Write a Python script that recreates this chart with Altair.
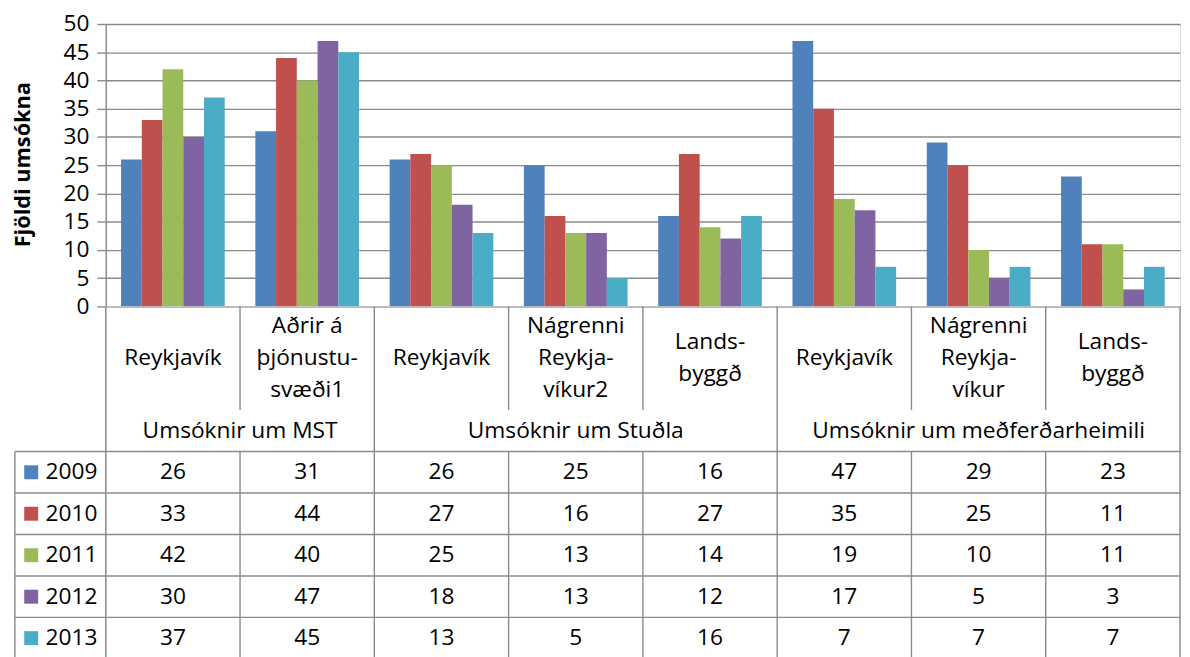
import altair as alt
import pandas as pd

# ---------------- data ----------------
years = ["2009", "2010", "2011", "2012", "2013"]
colors = ["#4F81BD", "#C0504D", "#9BBB59", "#8064A2", "#4BACC6"]
groups = ["Umsóknir um MST", "Umsóknir um Stuðla", "Umsóknir um meðferðarheimili"]
cat_labels = [
    "Reykjavík",
    "Aðrir á|þjónustu-|svæði1",
    "Reykjavík",
    "Nágrenni|Reykja-|víkur2",
    "Lands-|byggð",
    "Reykjavík",
    "Nágrenni|Reykja-|víkur",
    "Lands-|byggð",
]
cat_group = [0, 0, 1, 1, 1, 2, 2, 2]
v2009 = [26, 31, 26, 25, 16, 47, 29, 23]
v2010 = [33, 44, 27, 16, 27, 35, 25, 11]
v2011 = [42, 40, 25, 13, 14, 19, 10, 11]
v2012 = [30, 47, 18, 13, 12, 17, 5, 3]
v2013 = [37, 45, 13, 5, 16, 7, 7, 7]
y_ticks = [0, 5, 10, 15, 20, 25, 30, 35, 40, 45, 50]

series = [v2009, v2010, v2011, v2012, v2013]
cat_keys = [f"c{i}" for i in range(len(cat_labels))]
n_cat = len(cat_keys)

FONT = "Open Sans"
FS = 23
GRID = "#8a8a8a"
LW = 1.4
ROW_H = 42
LINE_H = 32.5

# table layout (row units; category units on x)
LABEL_ROWS = 2.5
GROUP_ROW = 1.0
DATA_START = LABEL_ROWS + GROUP_ROW
TABLE_END = DATA_START + len(years)
LEG_LEFT = -92 / 136
LEG_SQ = -75.5 / 136
LEG_TXT = -61 / 136

# ---------------- frames ----------------
bar_rows = []
for yi, yr in enumerate(years):
    for ci, ck in enumerate(cat_keys):
        bar_rows.append({"cat": ck, "year": yr, "value": series[yi][ci]})
bar_df = pd.DataFrame(bar_rows)

cat_df = pd.DataFrame({
    "xc": [i + 0.5 for i in range(n_cat)],
    "label": cat_labels,
    "yc": [LABEL_ROWS / 2] * n_cat,
})

grp_df = pd.DataFrame({
    "xc": [
        (min(i for i, g in enumerate(cat_group) if g == gi) +
         max(i for i, g in enumerate(cat_group) if g == gi) + 1) / 2
        for gi in range(len(groups))
    ],
    "label": groups,
    "yc": [LABEL_ROWS + GROUP_ROW / 2] * len(groups),
})

val_rows = []
for yi, yr in enumerate(years):
    for ci in range(n_cat):
        val_rows.append({"xc": ci + 0.5, "yc": DATA_START + yi + 0.5,
                         "value": series[yi][ci], "year": yr})
val_df = pd.DataFrame(val_rows)

leg_df = pd.DataFrame({
    "year": years,
    "yc": [DATA_START + i + 0.5 for i in range(len(years))],
    "xs": [LEG_SQ] * len(years),
    "xt": [LEG_TXT] * len(years),
})

rules = []
for b in range(n_cat + 1):
    full = b == 0 or b == n_cat or cat_group[b] != cat_group[b - 1]
    if full:
        rules.append({"x": b, "x2": b, "y": 0, "y2": TABLE_END})
    else:
        rules.append({"x": b, "x2": b, "y": 0, "y2": LABEL_ROWS})
        rules.append({"x": b, "x2": b, "y": DATA_START, "y2": TABLE_END})
rules.append({"x": LEG_LEFT, "x2": LEG_LEFT, "y": DATA_START, "y2": TABLE_END})
for k in range(len(years)):
    rules.append({"x": LEG_LEFT, "x2": n_cat, "y": DATA_START + k, "y2": DATA_START + k})
rule_df = pd.DataFrame(rules)

# ---------------- top: bars ----------------
color_scale = alt.Scale(domain=years, range=colors)

bars = alt.Chart(bar_df).mark_bar().encode(
    x=alt.X("cat:N", sort=cat_keys,
            scale=alt.Scale(paddingInner=0, paddingOuter=0),
            axis=alt.Axis(labels=False, ticks=False, title=None,
                          domainColor=GRID, domainWidth=LW)),
    xOffset=alt.XOffset("year:N", sort=years,
                        scale=alt.Scale(paddingInner=0, paddingOuter=0.738)),
    y=alt.Y("value:Q", scale=alt.Scale(domain=[0, 50], nice=False, zero=True),
            axis=alt.Axis(values=y_ticks, title="Fjöldi umsókna",
                          grid=True, gridColor=GRID, gridWidth=LW,
                          domainColor=GRID, domainWidth=LW,
                          tickColor=GRID, tickWidth=LW, tickSize=9,
                          labelPadding=8, labelFont=FONT, labelFontSize=FS,
                          labelColor="#000000",
                          titleFont=FONT, titleFontSize=22, titleFontWeight="bold",
                          titleColor="#000000", titleX=-84, titleY=142,
                          titleAngle=270, titleAlign="center",
                          titleBaseline="middle")),
    color=alt.Color("year:N", scale=color_scale, legend=None),
).properties(width=136 * n_cat, height=286)

# ---------------- bottom: data table ----------------
xq = alt.Scale(domain=[0, n_cat], nice=False, zero=False)
yq = alt.Scale(domain=[0, TABLE_END], nice=False, zero=False, reverse=True)

lines = alt.Chart(rule_df).mark_rule(color=GRID, strokeWidth=LW).encode(
    x=alt.X("x:Q", scale=xq, axis=None),
    x2="x2:Q",
    y=alt.Y("y:Q", scale=yq, axis=None),
    y2="y2:Q",
)

cat_text = alt.Chart(cat_df).transform_calculate(
    lines="split(datum.label, '|')"
).transform_calculate(
    ytop=f"datum.yc - (length(datum.lines) - 1) / 2 * {LINE_H / ROW_H}"
).mark_text(font=FONT, fontSize=FS, lineHeight=LINE_H, baseline="middle",
            align="center", color="#000000").encode(
    x=alt.X("xc:Q", scale=xq, axis=None),
    y=alt.Y("ytop:Q", scale=yq, axis=None),
    text="lines:N",
)

grp_text = alt.Chart(grp_df).mark_text(
    font=FONT, fontSize=FS, baseline="middle", align="center", color="#000000"
).encode(
    x=alt.X("xc:Q", scale=xq, axis=None),
    y=alt.Y("yc:Q", scale=yq, axis=None),
    text="label:N",
)

val_text = alt.Chart(val_df).mark_text(
    font=FONT, fontSize=FS, baseline="middle", align="center", color="#000000"
).encode(
    x=alt.X("xc:Q", scale=xq, axis=None),
    y=alt.Y("yc:Q", scale=yq, axis=None),
    text="value:Q",
)

leg_sq = alt.Chart(leg_df).mark_square(size=200, opacity=1).encode(
    x=alt.X("xs:Q", scale=xq, axis=None),
    y=alt.Y("yc:Q", scale=yq, axis=None),
    color=alt.Color("year:N", scale=color_scale, legend=None),
)

leg_txt = alt.Chart(leg_df).mark_text(
    font=FONT, fontSize=FS, baseline="middle", align="left", color="#000000"
).encode(
    x=alt.X("xt:Q", scale=xq, axis=None),
    y=alt.Y("yc:Q", scale=yq, axis=None),
    text="year:N",
)

table = alt.layer(lines, cat_text, grp_text, val_text, leg_sq, leg_txt).properties(
    width=136 * n_cat, height=ROW_H * TABLE_END
)

chart = alt.VConcatChart(
    vconcat=[bars, table], spacing=0, bounds="flush",
    padding={"left": 3, "top": 0, "right": 0, "bottom": 0},
).resolve_scale(x="independent", y="independent", color="shared").configure_view(
    stroke=None
).configure(background="white")

chart.save("out.html", embed_options={"renderer": "svg", "actions": False})
